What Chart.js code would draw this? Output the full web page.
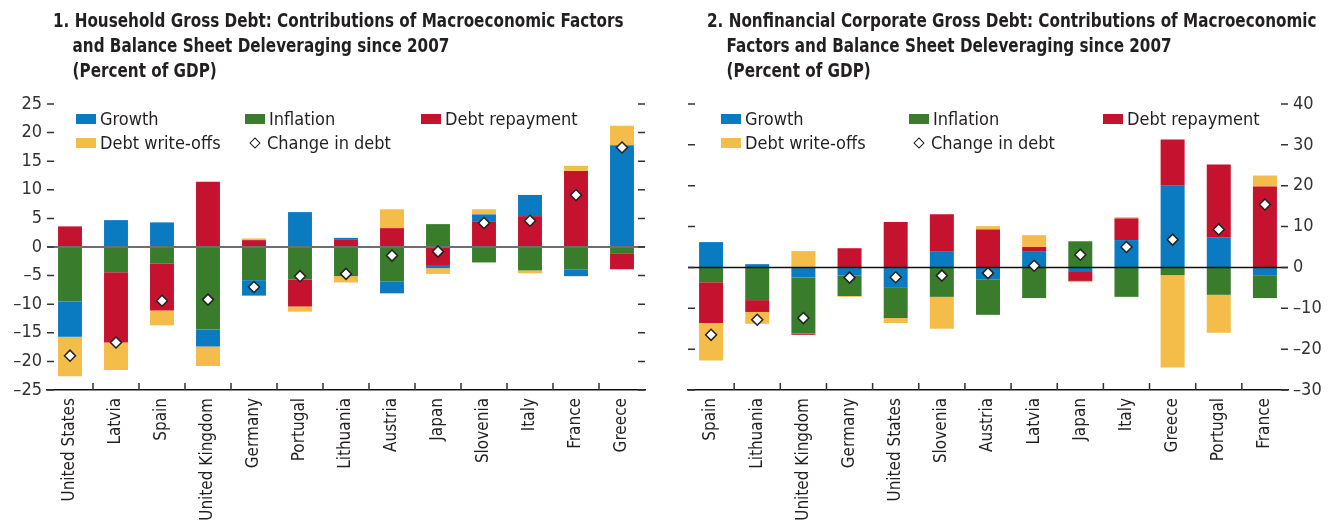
<!DOCTYPE html>
<html>
<head>
<meta charset="utf-8">
<script src="https://cdn.jsdelivr.net/npm/chart.js@4.4.0/dist/chart.umd.min.js"></script>
<style>
  body { margin: 0; width: 1332px; height: 522px; background: #fff; position: relative; overflow: hidden;
         font-family: "Liberation Sans Narrow", "Arial Narrow", "DejaVu Sans Condensed", sans-serif; color: #231f20; }
  .panel { position: absolute; top: 0; width: 666px; height: 522px; }
  .panel canvas { position: absolute; left: 0; top: 0; }
  .title { position: absolute; top: 8px; font-weight: bold; font-size: 19px; line-height: 25px; white-space: nowrap;
           transform: scaleX(0.89); transform-origin: 0 0; }
  .title .ind { padding-left: 22px; }
  .legend { position: absolute; font-size: 18px; }
  .item { position: absolute; display: flex; align-items: center; white-space: nowrap; }
  .sw { width: 20px; height: 10px; margin-right: 4px; }
  .dia { width: 6px; height: 6px; border: 1.5px solid #222; background: #fff; transform: rotate(45deg); margin: 0 8px 0 3px; }
</style>
</head>
<body>
<div class="panel" style="left:0">
  <canvas id="hhChart" width="666" height="522"></canvas>
  <div class="title" style="left:53px">
    <div>1. Household Gross Debt: Contributions of Macroeconomic Factors</div>
    <div class="ind">and Balance Sheet Deleveraging since 2007</div>
    <div class="ind">(Percent of GDP)</div>
  </div>
  <div class="legend">
    <div class="item" style="left:76px; top:108px"><div class="sw" style="background:#0a7bc1"></div>Growth</div>
    <div class="item" style="left:245px; top:108px"><div class="sw" style="background:#387c2c"></div>Inflation</div>
    <div class="item" style="left:421px; top:108px"><div class="sw" style="background:#c4122f"></div>Debt repayment</div>
    <div class="item" style="left:76px; top:132px"><div class="sw" style="background:#f4bc48"></div>Debt write-offs</div>
    <div class="item" style="left:248px; top:132px"><div class="dia"></div>Change in debt</div>
  </div>
</div>
<div class="panel" style="left:666px">
  <canvas id="nfcChart" width="666" height="522"></canvas>
  <div class="title" style="left:41px">
    <div>2. Nonfinancial Corporate Gross Debt: Contributions of Macroeconomic</div>
    <div class="ind">Factors and Balance Sheet Deleveraging since 2007</div>
    <div class="ind">(Percent of GDP)</div>
  </div>
  <div class="legend">
    <div class="item" style="left:55px; top:108px"><div class="sw" style="background:#0a7bc1"></div>Growth</div>
    <div class="item" style="left:243px; top:108px"><div class="sw" style="background:#387c2c"></div>Inflation</div>
    <div class="item" style="left:437px; top:108px"><div class="sw" style="background:#c4122f"></div>Debt repayment</div>
    <div class="item" style="left:55px; top:132px"><div class="sw" style="background:#f4bc48"></div>Debt write-offs</div>
    <div class="item" style="left:246px; top:132px"><div class="dia"></div>Change in debt</div>
  </div>
</div>
<script>
// panel 1: household debt
const hhCountries = ['United States', 'Latvia', 'Spain', 'United Kingdom', 'Germany', 'Portugal', 'Lithuania',
                     'Austria', 'Japan', 'Slovenia', 'Italy', 'France', 'Greece'];
const hhGrowth    = [-6.2, 4.7, 4.3, -3.0, -2.7, 6.1, 0.25, -2.1, -0.4, 1.2, 3.7, -1.2, 17.8];
const hhInflation = [-9.5, -4.4, -2.9, -14.4, -5.8, -5.7, -5.1, -6.0, 4.0, -2.7, -4.1, -3.9, -1.2];
const hhRepayment = [3.6, -12.3, -8.2, 11.4, 1.2, -4.7, 1.35, 3.3, -3.3, 4.5, 5.4, 13.3, -2.7];
const hhWriteOffs = [-6.9, -4.8, -2.6, -3.4, 0.3, -0.9, -1.1, 3.3, -1.0, 0.9, -0.5, 0.9, 3.4];
const hhChange    = [-19.0, -16.7, -9.4, -9.2, -7.0, -5.1, -4.7, -1.5, -0.8, 4.2, 4.6, 9.1, 17.4];

// panel 2: nonfinancial corporate debt
const nfcCountries = ['Spain', 'Lithuania', 'United Kingdom', 'Germany', 'United States', 'Slovenia', 'Austria',
                      'Latvia', 'Japan', 'Italy', 'Greece', 'Portugal', 'France'];
const nfcGrowth    = [6.2, 0.8, -2.5, -2.0, -5.0, 4.0, -3.0, 4.0, -0.9, 6.7, 20.0, 7.4, -1.9];
const nfcInflation = [-3.6, -8.0, -13.7, -5.0, -7.4, -7.2, -8.6, -7.5, 6.4, -7.2, -1.9, -6.7, -5.6];
const nfcRepayment = [-10.0, -2.9, -0.3, 4.7, 11.1, 9.0, 9.3, 1.0, -2.4, 5.3, 11.3, 17.8, 19.8];
const nfcWriteOffs = [-9.2, -2.9, 4.0, -0.2, -1.2, -7.8, 0.8, 2.9, -0.3, 0.3, -22.6, -9.3, 2.7];
const nfcChange    = [-16.5, -12.8, -12.4, -2.5, -2.4, -2.0, -1.4, 0.4, 3.1, 5.0, 6.8, 9.3, 15.4];

const colors = { growth: '#0a7bc1', inflation: '#387c2c', repayment: '#c4122f', writeoffs: '#f4bc48' };
const fontFamily = '"Liberation Sans Narrow", "Arial Narrow", "DejaVu Sans Condensed", sans-serif';

Chart.defaults.font.family = fontFamily;
Chart.defaults.color = '#333';

function formatTick(value) {
    return value < 0 ? '\u2013' + Math.abs(value) : String(value);
}

function bar(label, data, color) {
    return { type: 'bar', label: label, data: data, backgroundColor: color, borderWidth: 0,
             barPercentage: 0.52, categoryPercentage: 1 };
}

function diamonds(data) {
    return { type: 'line', label: 'Change in debt', data: data, showLine: false, stack: 'change', order: -1,
             pointStyle: 'rectRot', pointRadius: 5.5, pointBackgroundColor: '#fff',
             pointBorderColor: '#222', pointBorderWidth: 1.5 };
}

// zero line under the diamonds, short inward ticks on both sides and category ticks along the bottom
const axisMarks = {
    id: 'axisMarks',
    beforeDatasetDraw(chart, args, opts) {
        if (args.meta.type !== 'line') return;
        const ctx = chart.ctx, area = chart.chartArea;
        const y0 = chart.scales.y.getPixelForValue(0);
        ctx.save();
        ctx.strokeStyle = opts.zeroColor;
        ctx.lineWidth = opts.zeroWidth;
        ctx.beginPath();
        ctx.moveTo(area.left, y0);
        ctx.lineTo(area.right, y0);
        ctx.stroke();
        ctx.restore();
    },
    afterDraw(chart) {
        const ctx = chart.ctx, area = chart.chartArea;
        const yScale = chart.scales.y, xScale = chart.scales.x;
        ctx.save();
        ctx.strokeStyle = '#333';
        ctx.lineWidth = 1.5;
        ctx.beginPath();
        yScale.ticks.forEach(t => {
            const py = yScale.getPixelForValue(t.value);
            ctx.moveTo(area.left, py);
            ctx.lineTo(area.left + 7, py);
            ctx.moveTo(area.right - 7, py);
            ctx.lineTo(area.right, py);
        });
        for (let i = 1; i < xScale.ticks.length; i++) {
            const px = (xScale.getPixelForTick(i - 1) + xScale.getPixelForTick(i)) / 2;
            ctx.moveTo(px, area.bottom);
            ctx.lineTo(px, area.bottom - 7);
        }
        ctx.stroke();
        ctx.restore();
    }
};

function makeChart(id, labels, datasets, yOpts, padding, zero) {
    const ctx = document.getElementById(id).getContext('2d');
    return new Chart(ctx, {
        data: { labels: labels, datasets: datasets },
        plugins: [axisMarks],
        options: {
            responsive: false,
            animation: false,
            layout: { padding: padding },
            plugins: { legend: { display: false }, tooltip: { enabled: false }, axisMarks: zero },
            scales: {
                x: {
                    stacked: true,
                    ticks: { autoSkip: false, minRotation: 90, maxRotation: 90, padding: 8,
                             font: { size: 17 }, color: '#231f20' },
                    grid: { display: false, drawTicks: false },
                    border: { display: true, color: '#111', width: 1.5 },
                    afterFit: s => { s.height = 132; }
                },
                y: Object.assign({
                    stacked: true,
                    grid: { display: false, drawTicks: false },
                    border: { display: false }
                }, yOpts)
            }
        }
    });
}

makeChart('hhChart', hhCountries, [
    bar('Inflation', hhInflation, colors.inflation),
    bar('Debt repayment', hhRepayment, colors.repayment),
    bar('Growth', hhGrowth, colors.growth),
    bar('Debt write-offs', hhWriteOffs, colors.writeoffs),
    diamonds(hhChange)
], {
    position: 'left', min: -25, max: 25,
    ticks: { stepSize: 5, padding: 5, font: { size: 18 }, color: '#333', callback: formatTick },
    afterFit: s => { s.width = 47; }
}, { top: 104, right: 21, left: 0, bottom: 0 }, { zeroColor: '#6d6e71', zeroWidth: 2 });

makeChart('nfcChart', nfcCountries, [
    bar('Growth', nfcGrowth, colors.growth),
    bar('Inflation', nfcInflation, colors.inflation),
    bar('Debt repayment', nfcRepayment, colors.repayment),
    bar('Debt write-offs', nfcWriteOffs, colors.writeoffs),
    diamonds(nfcChange)
], {
    position: 'right', min: -30, max: 40,
    ticks: { stepSize: 10, padding: 5, font: { size: 18 }, color: '#333', callback: formatTick },
    afterFit: s => { s.width = 44; }
}, { top: 104, right: 0, left: 22, bottom: 0 }, { zeroColor: '#111', zeroWidth: 1.5 });
</script>
</body>
</html>
